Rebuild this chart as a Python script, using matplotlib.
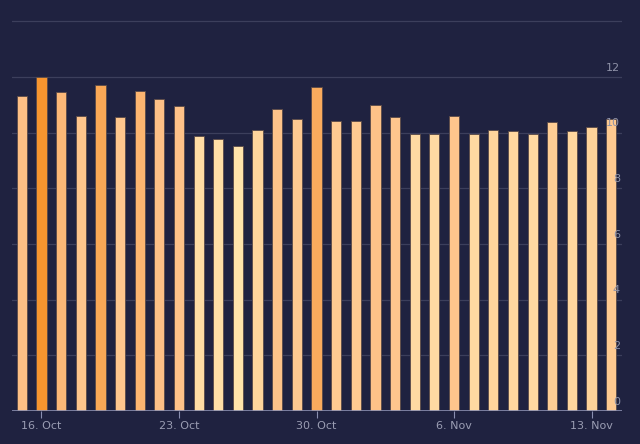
import numpy as np
import matplotlib.pyplot as plt
from matplotlib.colors import LinearSegmentedColormap

values = [11.3, 12.0, 11.44, 10.58, 11.7, 10.54, 11.5, 11.22, 10.94, 9.86,
          9.78, 9.53, 10.1, 10.86, 10.47, 11.65, 10.43, 10.43, 10.97, 10.54,
          9.93, 9.93, 10.58, 9.96, 10.1, 10.04, 9.96, 10.36, 10.07, 10.2, 10.47]
tick_pos = [1, 8, 15, 22, 29]
tick_labels = ['16. Oct', '23. Oct', '30. Oct', '6. Nov', '13. Nov']

bg = '#1f2240'
cmap = LinearSegmentedColormap.from_list('c', ['#ffe3ab', '#fec58c', '#fdbf85', '#f7952f'])
v = np.array(values)
norm = (v - 9.5) / (12.0 - 9.5)
colors = [cmap(np.clip(n, 0, 1) ** 1.3) for n in norm]

fig = plt.figure(figsize=(6.4, 4.44), dpi=100, facecolor=bg)
ax = fig.add_axes([12/640, 33/444, 610/640, (411-20)/444 * 0 + 391/444 * 0 + (411-20)/444 / (14.04/14.04) * 1])
ax.set_position([12/640, (444-411)/444, 610/640, (411-20)/444])
ax.set_facecolor(bg)
x = np.arange(len(values))
ax.bar(x, values, width=0.52, color=colors, edgecolor='#5a4a48', linewidth=0.6, zorder=3)
ax.set_xlim(-0.5, len(values) - 0.45)
ax.set_ylim(0, 14.04)
for y in [2, 4, 6, 8, 10, 12, 14]:
    ax.axhline(y, color='#3c3f5c', lw=0.9, zorder=1)
ax.axhline(0, color='#8a8fb0', lw=1.2, zorder=4)
ax.set_yticks([])
for y in range(0, 13, 2):
    ax.text(len(values) - 0.55, y + 0.15, str(y), color='#8f92a8', fontsize=8,
            ha='right', va='bottom', zorder=5)
ax.set_xticks(tick_pos)
ax.set_xticklabels(tick_labels, color='#9a9db3', fontsize=8)
ax.tick_params(axis='x', length=5, color='#8a8fb0', pad=2)
for s in ax.spines.values():
    s.set_visible(False)
fig.savefig('out.png', facecolor=bg)
